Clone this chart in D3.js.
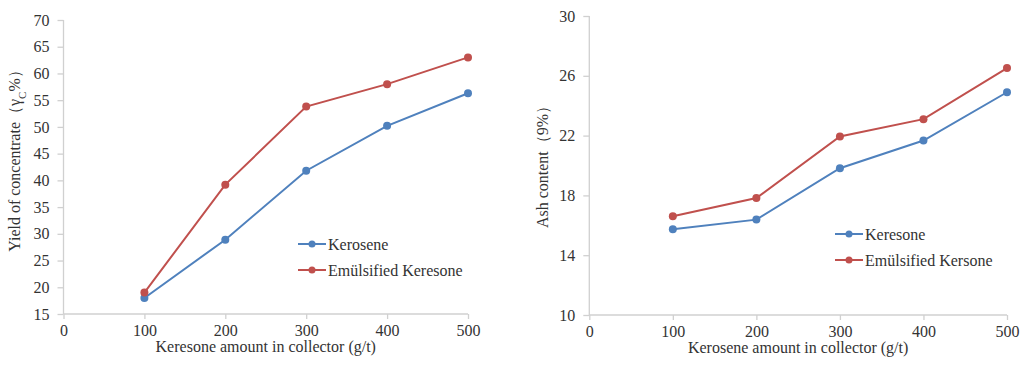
<!DOCTYPE html>
<html>
<head>
<meta charset="utf-8">
<script src="https://cdn.jsdelivr.net/npm/d3@7"></script>
<style>
  body { margin: 0; background: #fff; }
  svg text { font-family: "Liberation Serif", "Times New Roman", serif; }
</style>
</head>
<body>
<svg id="chart" width="1020" height="365"></svg>
<script>
/* Data */
const AMOUNTS = [100, 200, 300, 400, 500];
const X_TICKS = [0, 100, 200, 300, 400, 500];

const YIELD_KEROSENE = [18.0, 28.9, 41.8, 50.2, 56.3];
const YIELD_EMULSIFIED = [19.0, 39.2, 53.8, 58.0, 63.0];
const YIELD_TICKS = [15, 20, 25, 30, 35, 40, 45, 50, 55, 60, 65, 70];

const ASH_KEROSENE = [15.73, 16.38, 19.82, 21.67, 24.9];
const ASH_EMULSIFIED = [16.6, 17.82, 21.94, 23.1, 26.52];
const ASH_TICKS = [10, 14, 18, 22, 26, 30];

const BLUE = '#4f81bd';
const RED = '#c0504d';
const AXIS = '#d0d0d0';
const TEXT = '#333';
const FONT = '"Liberation Serif", "Times New Roman", serif';

const svg = d3.select('#chart');

function panel(opts) {
    const x = d3.scaleLinear().domain([0, 500]).range([opts.left, opts.right]);
    const y = d3.scaleLinear().domain(opts.yDomain).range([opts.bottom, opts.top]);
    const g = svg.append('g').attr('font-family', FONT);

    // y axis
    const yAxis = g.append('g')
        .attr('transform', `translate(${opts.left},0)`)
        .call(d3.axisLeft(y).tickValues(opts.yTicks).tickSize(6).tickPadding(8));
    // x axis
    const xAxis = g.append('g')
        .attr('transform', `translate(0,${opts.bottom})`)
        .call(d3.axisBottom(x).tickValues(X_TICKS).tickSize(5).tickPadding(6));

    [yAxis, xAxis].forEach(a => {
        a.attr('font-family', FONT).attr('font-size', 16);
        a.select('.domain').attr('stroke', AXIS).attr('stroke-width', 1.3);
        a.selectAll('.tick line').attr('stroke', AXIS).attr('stroke-width', 1.3);
        a.selectAll('.tick text').attr('fill', TEXT);
    });
    // axis lines without outer ticks
    yAxis.select('.domain').attr('d', `M0,${opts.bottom}V${opts.top}`);
    xAxis.select('.domain').attr('d', `M${opts.left},0H${opts.right}`);

    // titles
    g.append('text')
        .attr('x', (opts.left + opts.right) / 2)
        .attr('y', opts.bottom + 38)
        .attr('text-anchor', 'middle')
        .attr('fill', TEXT)
        .attr('font-size', 16)
        .text(opts.xTitle);

    const yt = g.append('text')
        .attr('transform', `translate(${opts.yTitleX},${opts.yTitleY}) rotate(-90)`)
        .attr('text-anchor', 'middle')
        .attr('fill', TEXT)
        .attr('font-size', 16);
    opts.yTitle(yt);

    // series
    const line = d3.line().x((d, i) => x(AMOUNTS[i])).y(d => y(d));
    opts.series.forEach(s => {
        g.append('path')
            .datum(s.values)
            .attr('fill', 'none')
            .attr('stroke', s.color)
            .attr('stroke-width', 2)
            .attr('d', line);
        g.selectAll(null).data(s.values).enter().append('circle')
            .attr('cx', (d, i) => x(AMOUNTS[i]))
            .attr('cy', d => y(d))
            .attr('r', 4)
            .attr('fill', s.color);
    });

    // legend
    opts.series.forEach((s, i) => {
        const ly = opts.legendY + i * 26;
        const lx = opts.legendX;
        g.append('line')
            .attr('x1', lx).attr('x2', lx + 28)
            .attr('y1', ly).attr('y2', ly)
            .attr('stroke', s.color).attr('stroke-width', 2);
        g.append('circle')
            .attr('cx', lx + 14).attr('cy', ly).attr('r', 3.5)
            .attr('fill', s.color);
        g.append('text')
            .attr('x', lx + 30).attr('y', ly)
            .attr('dy', '0.35em')
            .attr('fill', TEXT)
            .attr('font-size', 16)
            .text(s.name);
    });
}

panel({
    left: 63.5, right: 468, top: 20, bottom: 314,
    yDomain: [15, 70], yTicks: YIELD_TICKS,
    xTitle: 'Keresone amount  in collector (g/t)',
    yTitleX: 20, yTitleY: 157,
    yTitle: t => {
        t.append('tspan').text('Yield of concentrate（γ');
        t.append('tspan').attr('baseline-shift', 'sub').attr('font-size', 11).text('C');
        t.append('tspan').text('%）');
    },
    legendX: 298, legendY: 244,
    series: [
        { name: 'Kerosene', color: BLUE, values: YIELD_KEROSENE },
        { name: 'Emülsified Keresone', color: RED, values: YIELD_EMULSIFIED }
    ]
});

panel({
    left: 589.3, right: 1007, top: 16, bottom: 315,
    yDomain: [10, 30], yTicks: ASH_TICKS,
    xTitle: 'Kerosene amount  in collector (g/t)',
    yTitleX: 548, yTitleY: 163,
    yTitle: t => t.text('Ash content（9%）'),
    legendX: 835, legendY: 234,
    series: [
        { name: 'Keresone', color: BLUE, values: ASH_KEROSENE },
        { name: 'Emülsified Kersone', color: RED, values: ASH_EMULSIFIED }
    ]
});
</script>
</body>
</html>
